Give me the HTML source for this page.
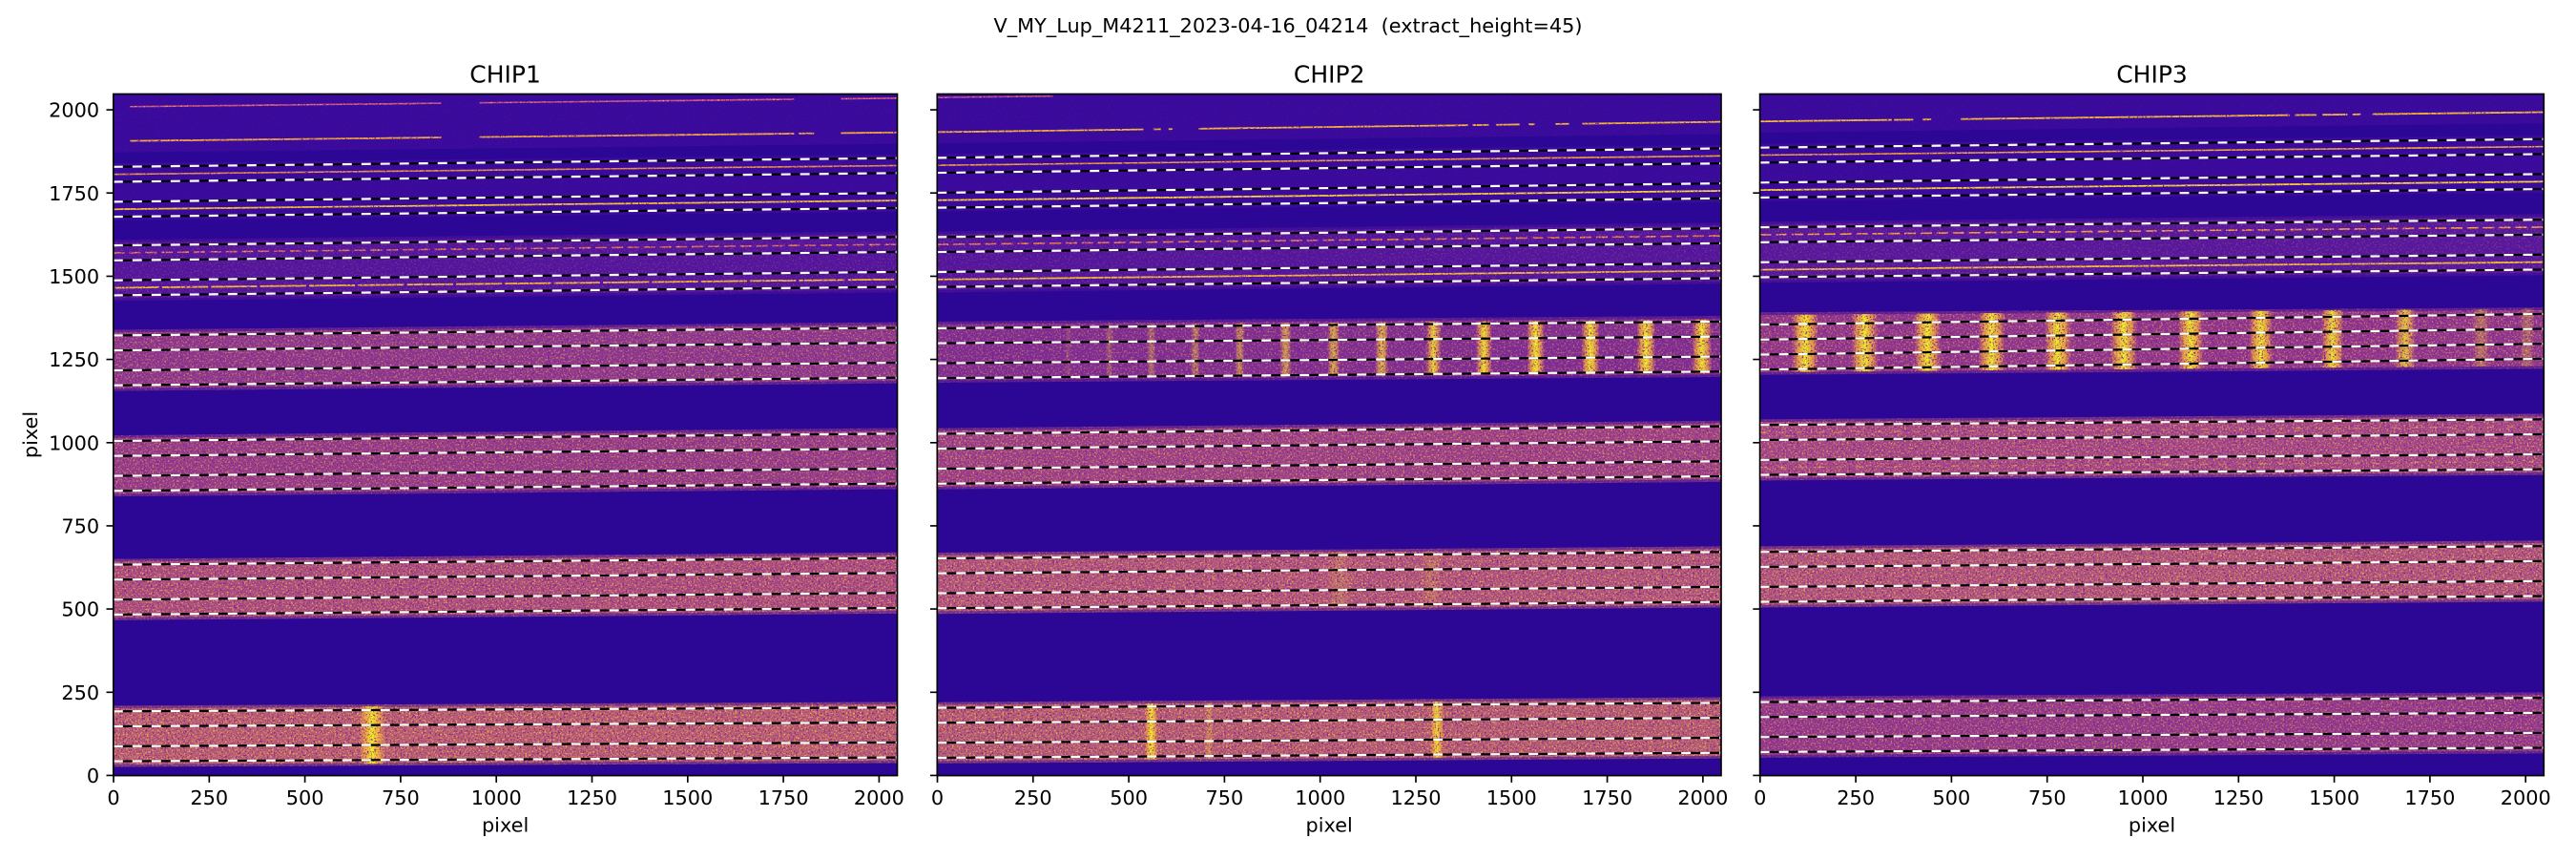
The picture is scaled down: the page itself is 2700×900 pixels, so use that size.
<!DOCTYPE html>
<html><head><meta charset="utf-8">
<style>
html,body{margin:0;padding:0;background:#fff;}
svg{display:block;}
text{font-family:"DejaVu Sans","Liberation Sans",sans-serif;fill:#000;}
</style></head>
<body>
<svg width="2700" height="900" viewBox="0 0 2700 900" xmlns="http://www.w3.org/2000/svg">
<defs>
<clipPath id="c1"><rect x="118.8" y="98.5" width="821.7" height="714.1"/></clipPath>
<clipPath id="c2"><rect x="982.3" y="98.5" width="821.7" height="714.1"/></clipPath>
<clipPath id="c3"><rect x="1844.6" y="98.5" width="821.7" height="714.1"/></clipPath>
<filter id="nz" x="0" y="0" width="1" height="1" color-interpolation-filters="sRGB">
 <feTurbulence type="fractalNoise" baseFrequency="0.55" numOctaves="2" seed="7" result="t"/>
 <feColorMatrix in="SourceGraphic" type="matrix" values="0 0 0 0 0  0 0 0 0 0  0 0 0 0 0  1.7 0 0 0 -0.35" result="m"/>
 <feColorMatrix in="t" type="matrix" values="0 0 0 0 0.98  0 0 0 0 0.72  0 0 0 0 0.25  4.5 0 0 0 -2.35" result="y"/>
 <feColorMatrix in="t" type="matrix" values="0 0 0 0 0.45  0 0 0 0 0.06  0 0 0 0 0.62  0 -4.5 0 0 2.15" result="p"/>
 <feMerge result="yp"><feMergeNode in="p"/><feMergeNode in="y"/></feMerge>
 <feComposite in="yp" in2="m" operator="in" result="ypm"/>
 <feMerge><feMergeNode in="SourceGraphic"/><feMergeNode in="ypm"/></feMerge>
</filter>
<linearGradient id="bl" x1="0" y1="0" x2="1" y2="0">
 <stop offset="0" stop-color="#f89540" stop-opacity="0"/>
 <stop offset="0.22" stop-color="#fbb535" stop-opacity="0.75"/>
 <stop offset="0.5" stop-color="#f0f921" stop-opacity="1"/>
 <stop offset="0.78" stop-color="#fbb535" stop-opacity="0.75"/>
 <stop offset="1" stop-color="#f89540" stop-opacity="0"/>
</linearGradient>
<path id="d1" d="M-0.5 1828.7L2047.5 1855M-0.5 1783.7L2047.5 1810M-0.5 1723.7L2047.5 1750M-0.5 1678.7L2047.5 1705M-0.5 1592.6L2047.5 1618M-0.5 1547.6L2047.5 1573M-0.5 1487.6L2047.5 1513M-0.5 1442.6L2047.5 1468M-0.5 1322.1L2047.5 1345M-0.5 1277.1L2047.5 1300M-0.5 1217.1L2047.5 1240M-0.5 1172.1L2047.5 1195M-0.5 1005L2047.5 1027M-0.5 960L2047.5 982M-0.5 900L2047.5 922M-0.5 855L2047.5 877M-0.5 633.2L2047.5 653.3M-0.5 588.2L2047.5 608.3M-0.5 528.2L2047.5 548.3M-0.5 483.2L2047.5 503.3M-0.5 192.5L2047.5 204M-0.5 147.5L2047.5 159M-0.5 87.5L2047.5 99M-0.5 42.5L2047.5 54"/>
<path id="d2" d="M-0.5 1855.8L2047.5 1884M-0.5 1810.8L2047.5 1839M-0.5 1750.8L2047.5 1779M-0.5 1705.8L2047.5 1734M-0.5 1617.7L2047.5 1644M-0.5 1572.7L2047.5 1599M-0.5 1512.7L2047.5 1539M-0.5 1467.7L2047.5 1494M-0.5 1343.6L2047.5 1363.6M-0.5 1298.6L2047.5 1318.6M-0.5 1238.6L2047.5 1258.6M-0.5 1193.6L2047.5 1213.6M-0.5 1026.5L2047.5 1049M-0.5 981.5L2047.5 1004M-0.5 921.5L2047.5 944M-0.5 876.5L2047.5 899M-0.5 652.3L2047.5 671.4M-0.5 607.3L2047.5 626.4M-0.5 547.3L2047.5 566.4M-0.5 502.3L2047.5 521.4M-0.5 203L2047.5 218M-0.5 158L2047.5 173M-0.5 98L2047.5 113M-0.5 53L2047.5 68"/>
<path id="d3" d="M-0.5 1886.4L2047.5 1912M-0.5 1841.4L2047.5 1867M-0.5 1781.4L2047.5 1807M-0.5 1736.4L2047.5 1762M-0.5 1647L2047.5 1670M-0.5 1602L2047.5 1625M-0.5 1542L2047.5 1565M-0.5 1497L2047.5 1520M-0.5 1354.5L2047.5 1386.7M-0.5 1309.5L2047.5 1342M-0.5 1264.5L2047.5 1297M-0.5 1219.5L2047.5 1252M-0.5 1053L2047.5 1070M-0.5 1008L2047.5 1025M-0.5 948L2047.5 965M-0.5 903L2047.5 920M-0.5 671.5L2047.5 689M-0.5 626.5L2047.5 644M-0.5 566.5L2047.5 584M-0.5 521.5L2047.5 539M-0.5 220.3L2047.5 233M-0.5 175.3L2047.5 188M-0.5 115.3L2047.5 128M-0.5 70.3L2047.5 83"/>
</defs>

<rect x="0" y="0" width="2700" height="900" fill="#fff"/>

<!-- ================= CHIP1 ================= -->
<g clip-path="url(#c1)">
 <g filter="url(#nz)">
  <rect x="118.8" y="98.5" width="821.7" height="714.1" fill="#2c0694"/>
  <g transform="translate(118.8 812.6) scale(0.40122 -0.34868) translate(0.5 0.5)">
   <polygon points="-1,1871.5 2049,1897.5 2049,2100 -1,2100" fill="#3a0a9d"/>
   <polygon points="-1,1667.7 2049,1694 2049,1866 -1,1839.7" fill="#3a0a9d"/>
   <polygon points="-1,1425.6 2049,1451 2049,1635 -1,1609.6" fill="#52149e" opacity="0.5"/>
   <polygon points="-1,1433.6 2049,1459 2049,1627 -1,1601.6" fill="#52149e"/>
   <polygon points="-1,1155.1 2049,1178 2049,1362 -1,1339.1" fill="#8c3690" opacity="0.5"/>
   <polygon points="-1,1163.1 2049,1186 2049,1354 -1,1331.1" fill="#8c3690"/>
   <polygon points="-1,838 2049,860 2049,1044 -1,1022" fill="#943a8c" opacity="0.5"/>
   <polygon points="-1,846 2049,868 2049,1036 -1,1014" fill="#943a8c"/>
   <polygon points="-1,466.2 2049,486.3 2049,670.3 -1,650.2" fill="#aa4c82" opacity="0.5"/>
   <polygon points="-1,474.2 2049,494.3 2049,662.3 -1,642.2" fill="#aa4c82"/>
   <polygon points="-1,25.5 2049,37 2049,221 -1,209.5" fill="#b85c76" opacity="0.5"/>
   <polygon points="-1,33.5 2049,45 2049,213 -1,201.5" fill="#b85c76"/>
   <rect x="641" y="35.3" width="70" height="172" fill="url(#bl)"/>
   <g fill="none" stroke-linecap="butt">
    <path d="M43 2009.5L856 2019.9M956 2021.1L1778 2031.6M1900 2033.1L2048 2035" stroke="#c8508a" stroke-width="4.5"/>
    <path d="M43 1906.5L856 1916.9M956 1918.1L1778 1928.6M1790 1928.7L1830 1929.2M1900 1930.1L2048 1932" stroke="#f2a83c" stroke-width="5"/>
    <path d="M-1 1806.2L2049 1832.5" stroke="#e08a44" stroke-width="4.5"/>
    <path d="M-1 1701.2L2049 1727.5" stroke="#f6cc2c" stroke-width="5"/>
    <path d="M-1 1570.1L2049 1595.5" stroke="#d06a60" stroke-width="4.5" stroke-dasharray="30 12"/>
    <path d="M-1 1465.1L2049 1490.5" stroke="#f0c030" stroke-width="5" stroke-dasharray="120 8"/>
   </g>
  </g>
 </g>
 <g transform="translate(118.8 812.6) scale(0.40122 -0.34868) translate(0.5 0.5)" fill="none" stroke-width="6.3">
  <use href="#d1" stroke="#000"/>
  <use href="#d1" stroke="#fff" stroke-dasharray="24.92 24.92"/>
 </g>
</g>

<!-- ================= CHIP2 ================= -->
<g clip-path="url(#c2)">
 <g filter="url(#nz)">
  <rect x="982.3" y="98.5" width="821.7" height="714.1" fill="#2c0694"/>
  <g transform="translate(982.3 812.6) scale(0.40122 -0.34868) translate(0.5 0.5)">
   <polygon points="-1,1899 2049,1927 2049,2100 -1,2100" fill="#3a0a9d"/>
   <polygon points="-1,1694.8 2049,1723 2049,1895 -1,1866.8" fill="#3a0a9d"/>
   <polygon points="-1,1450.7 2049,1477 2049,1661 -1,1634.7" fill="#52149e" opacity="0.5"/>
   <polygon points="-1,1458.7 2049,1485 2049,1653 -1,1626.7" fill="#52149e"/>
   <polygon points="-1,1180 2049,1197 2049,1381 -1,1364" fill="#7e2c94" opacity="0.5"/>
   <polygon points="-1,1188 2049,1205 2049,1373 -1,1356" fill="#7e2c94"/>
   <polygon points="-1,859.5 2049,882 2049,1066 -1,1043.5" fill="#9c408a" opacity="0.5"/>
   <polygon points="-1,867.5 2049,890 2049,1058 -1,1035.5" fill="#9c408a"/>
   <polygon points="-1,485.3 2049,504.4 2049,688.4 -1,669.3" fill="#b05480" opacity="0.5"/>
   <polygon points="-1,493.3 2049,512.4 2049,680.4 -1,661.3" fill="#b05480"/>
   <polygon points="-1,36 2049,51 2049,235 -1,220" fill="#b45a78" opacity="0.5"/>
   <polygon points="-1,44 2049,59 2049,227 -1,212" fill="#b45a78"/>
   <g fill="url(#bl)">
    <rect x="333" y="1194.8" width="18" height="160" opacity="0.15"/>
    <rect x="439" y="1195.7" width="20" height="160" opacity="0.25"/>
    <rect x="548" y="1196.6" width="22" height="160" opacity="0.35"/>
    <rect x="662" y="1197.6" width="24" height="160" opacity="0.45"/>
    <rect x="777" y="1198.6" width="26" height="160" opacity="0.5"/>
    <rect x="895" y="1199.6" width="30" height="160" opacity="0.6"/>
    <rect x="1019" y="1200.6" width="32" height="160" opacity="0.7"/>
    <rect x="1144" y="1201.6" width="34" height="160" opacity="0.75"/>
    <rect x="1276" y="1202.8" width="40" height="160" opacity="0.9"/>
    <rect x="1407" y="1203.9" width="42" height="160" opacity="0.95"/>
    <rect x="1540" y="1205" width="46" height="160"/>
    <rect x="1682" y="1206.2" width="48" height="160"/>
    <rect x="1826" y="1207.4" width="50" height="160"/>
    <rect x="1971" y="1208.6" width="52" height="160"/>
    <rect x="541" y="48.1" width="36" height="168"/>
    <rect x="698" y="49.2" width="24" height="168" opacity="0.35"/>
    <rect x="1286" y="53.5" width="38" height="168" opacity="0.9"/>
    <rect x="1016" y="503" width="70" height="168" opacity="0.2"/>
    <rect x="1262" y="505.3" width="60" height="168" opacity="0.2"/>
   </g>
   <g fill="none" stroke-linecap="butt">
    <path d="M-1 2037L302 2041.1" stroke="#b8488c" stroke-width="4.5"/>
    <path d="M-1 1933L538 1941.1M564 1941.5L584 1941.8M604 1942.1L614 1942.3M683 1943.3L1386 1953.9M1398 1954.1L1440 1954.7M1460 1955L1521 1956M1545 1956.3L1560 1956.6M1615 1957.4L1650 1957.9M1684 1958.4L2049 1963.9" stroke="#f4b832" stroke-width="5"/>
    <path d="M-1 1833.3L2049 1861.5" stroke="#f0a030" stroke-width="4.5"/>
    <path d="M-1 1728.3L2049 1756.5" stroke="#f8e030" stroke-width="5"/>
    <path d="M-1 1595.2L2049 1621.5" stroke="#e07850" stroke-width="4.5" stroke-dasharray="30 12"/>
    <path d="M-1 1490.2L2049 1516.5" stroke="#f0c030" stroke-width="5"/>
   </g>
  </g>
 </g>
 <g transform="translate(982.3 812.6) scale(0.40122 -0.34868) translate(0.5 0.5)" fill="none" stroke-width="6.3">
  <use href="#d2" stroke="#000"/>
  <use href="#d2" stroke="#fff" stroke-dasharray="24.92 24.92"/>
 </g>
</g>

<!-- ================= CHIP3 ================= -->
<g clip-path="url(#c3)">
 <g filter="url(#nz)">
  <rect x="1844.6" y="98.5" width="821.7" height="714.1" fill="#2c0694"/>
  <g transform="translate(1844.6 812.6) scale(0.40122 -0.34868) translate(0.5 0.5)">
   <polygon points="-1,1931.5 2049,1959.5 2049,2100 -1,2100" fill="#3a0a9d"/>
   <polygon points="-1,1725.4 2049,1751 2049,1923 -1,1897.4" fill="#3a0a9d"/>
   <polygon points="-1,1480 2049,1503 2049,1687 -1,1664" fill="#56169e" opacity="0.5"/>
   <polygon points="-1,1488 2049,1511 2049,1679 -1,1656" fill="#56169e"/>
   <polygon points="-1,1203.5 2049,1222 2049,1406 -1,1391.5" fill="#8e3490" opacity="0.5"/>
   <polygon points="-1,1211.5 2049,1230 2049,1398 -1,1383.5" fill="#8e3490"/>
   <polygon points="-1,886 2049,903 2049,1087 -1,1070" fill="#a4468a" opacity="0.5"/>
   <polygon points="-1,894 2049,911 2049,1079 -1,1062" fill="#a4468a"/>
   <polygon points="-1,504.5 2049,522 2049,706 -1,688.5" fill="#b05480" opacity="0.5"/>
   <polygon points="-1,512.5 2049,530 2049,698 -1,680.5" fill="#b05480"/>
   <polygon points="-1,53.3 2049,66 2049,250 -1,237.3" fill="#92388e" opacity="0.5"/>
   <polygon points="-1,61.3 2049,74 2049,242 -1,229.3" fill="#92388e"/>
   <g fill="url(#bl)">
    <rect x="83" y="1212.6" width="70" height="172"/>
    <rect x="238" y="1214" width="70" height="172"/>
    <rect x="402" y="1215.6" width="70" height="172"/>
    <rect x="570" y="1217.1" width="70" height="172"/>
    <rect x="743" y="1218.7" width="70" height="172"/>
    <rect x="915" y="1220.3" width="70" height="172"/>
    <rect x="1092" y="1222" width="66" height="172"/>
    <rect x="1277" y="1223.7" width="62" height="172"/>
    <rect x="1466" y="1225.4" width="58" height="172" opacity="0.95"/>
    <rect x="1658" y="1227.2" width="54" height="172" opacity="0.8"/>
    <rect x="1860" y="1229" width="46" height="172" opacity="0.35"/>
    <rect x="1984" y="1230.1" width="40" height="172" opacity="0.3"/>
   </g>
   <g fill="none" stroke-linecap="butt">
    <path d="M-1 1965L344 1969.7M350 1969.8L400 1970.5M425 1970.8L447 1971.1M524 1972.2L1384 1984M1397 1984.1L1454 1984.9M1469 1985.1L1534 1986M1548 1986.2L1569 1986.5M1600 1986.9L2049 1993.1" stroke="#f6c030" stroke-width="5"/>
    <path d="M-1 1863.9L2049 1889.5" stroke="#f0a830" stroke-width="4.5"/>
    <path d="M-1 1758.9L2049 1784.5" stroke="#f8e030" stroke-width="5"/>
    <path d="M-1 1624.5L2049 1647.5" stroke="#f0a040" stroke-width="4.5" stroke-dasharray="30 12"/>
    <path d="M-1 1519.5L2049 1542.5" stroke="#f4c830" stroke-width="5"/>
    <path d="M-1 1030.5L2049 1047.5M-1 925.5L2049 942.5" stroke="#f0b040" stroke-width="4" stroke-dasharray="20 30" opacity="0.5"/>
   </g>
  </g>
 </g>
 <g transform="translate(1844.6 812.6) scale(0.40122 -0.34868) translate(0.5 0.5)" fill="none" stroke-width="6.3">
  <use href="#d3" stroke="#000"/>
  <use href="#d3" stroke="#fff" stroke-dasharray="24.92 24.92"/>
 </g>
</g>

<!-- spines -->
<g fill="none" stroke="#000" stroke-width="1.67">
 <rect x="118.8" y="98.5" width="821.7" height="714.1"/>
 <rect x="982.3" y="98.5" width="821.7" height="714.1"/>
 <rect x="1844.6" y="98.5" width="821.7" height="714.1"/>
</g>

<!-- ticks -->
<g stroke="#000" stroke-width="1.67" fill="none">
 <path d="M111.5 812.4H118.8M111.5 725.3H118.8M111.5 638.1H118.8M111.5 550.9H118.8M111.5 463.8H118.8M111.5 376.6H118.8M111.5 289.4H118.8M111.5 202.2H118.8M111.5 115.1H118.8"/>
 <path d="M975 812.4H982.3M975 725.3H982.3M975 638.1H982.3M975 550.9H982.3M975 463.8H982.3M975 376.6H982.3M975 289.4H982.3M975 202.2H982.3M975 115.1H982.3"/>
 <path d="M1837.3 812.4H1844.6M1837.3 725.3H1844.6M1837.3 638.1H1844.6M1837.3 550.9H1844.6M1837.3 463.8H1844.6M1837.3 376.6H1844.6M1837.3 289.4H1844.6M1837.3 202.2H1844.6M1837.3 115.1H1844.6"/>
 <path d="M119 812.6V819.9M219.3 812.6V819.9M319.6 812.6V819.9M419.9 812.6V819.9M520.2 812.6V819.9M620.5 812.6V819.9M720.8 812.6V819.9M821.1 812.6V819.9M921.4 812.6V819.9"/>
 <path d="M982.5 812.6V819.9M1082.8 812.6V819.9M1183.1 812.6V819.9M1283.4 812.6V819.9M1383.7 812.6V819.9M1484 812.6V819.9M1584.3 812.6V819.9M1684.6 812.6V819.9M1784.9 812.6V819.9"/>
 <path d="M1844.8 812.6V819.9M1945.1 812.6V819.9M2045.4 812.6V819.9M2145.7 812.6V819.9M2246 812.6V819.9M2346.3 812.6V819.9M2446.6 812.6V819.9M2546.9 812.6V819.9M2647.2 812.6V819.9"/>
</g>

<!-- y tick labels -->
<g font-size="20.83" text-anchor="end">
 <text x="104.2" y="820.0">0</text>
 <text x="104.2" y="732.9">250</text>
 <text x="104.2" y="645.7">500</text>
 <text x="104.2" y="558.5">750</text>
 <text x="104.2" y="471.4">1000</text>
 <text x="104.2" y="384.2">1250</text>
 <text x="104.2" y="297.0">1500</text>
 <text x="104.2" y="209.8">1750</text>
 <text x="104.2" y="122.7">2000</text>
</g>

<!-- x tick labels -->
<g font-size="20.83" text-anchor="middle">
 <text x="119" y="843">0</text><text x="219.3" y="843">250</text><text x="319.6" y="843">500</text><text x="419.9" y="843">750</text><text x="520.2" y="843">1000</text><text x="620.5" y="843">1250</text><text x="720.8" y="843">1500</text><text x="821.1" y="843">1750</text><text x="921.4" y="843">2000</text>
 <text x="982.5" y="843">0</text><text x="1082.8" y="843">250</text><text x="1183.1" y="843">500</text><text x="1283.4" y="843">750</text><text x="1383.7" y="843">1000</text><text x="1484" y="843">1250</text><text x="1584.3" y="843">1500</text><text x="1684.6" y="843">1750</text><text x="1784.9" y="843">2000</text>
 <text x="1844.8" y="843">0</text><text x="1945.1" y="843">250</text><text x="2045.4" y="843">500</text><text x="2145.7" y="843">750</text><text x="2246" y="843">1000</text><text x="2346.3" y="843">1250</text><text x="2446.6" y="843">1500</text><text x="2546.9" y="843">1750</text><text x="2647.2" y="843">2000</text>
 <text x="529.6" y="871.5">pixel</text>
 <text x="1393.2" y="871.5">pixel</text>
 <text x="2255.5" y="871.5">pixel</text>
</g>

<text font-size="20.83" text-anchor="middle" transform="translate(39 455.5) rotate(-90)">pixel</text>

<!-- titles -->
<g font-size="25" text-anchor="middle">
 <text x="529.6" y="86.5">CHIP1</text>
 <text x="1393.2" y="86.5">CHIP2</text>
 <text x="2255.5" y="86.5">CHIP3</text>
</g>
<text x="1350" y="33.8" font-size="20.83" text-anchor="middle" style="white-space:pre">V_MY_Lup_M4211_2023-04-16_04214  (extract_height=45)</text>
</svg>
</body></html>
